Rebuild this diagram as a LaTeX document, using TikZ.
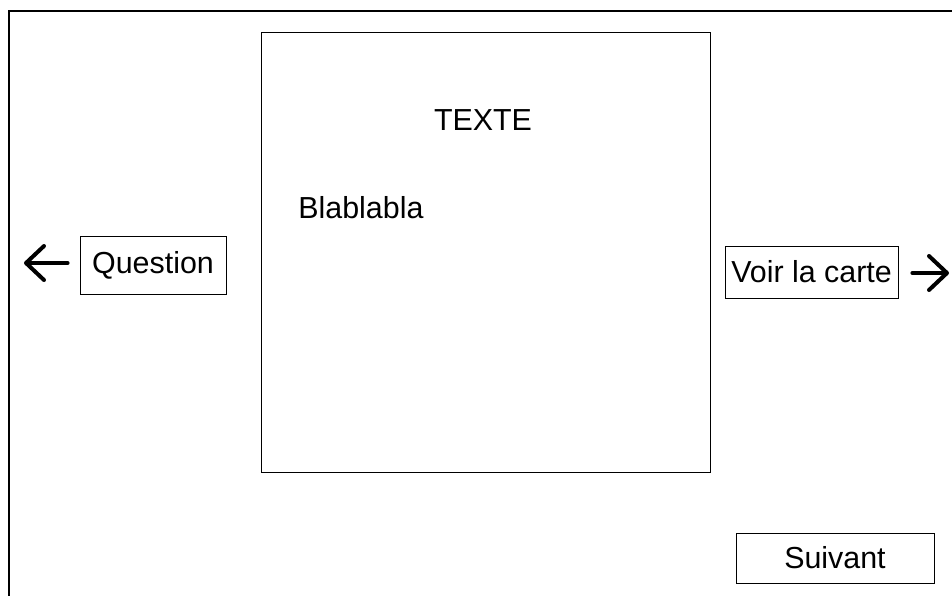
\documentclass[tikz,border=0pt]{standalone}
\usepackage{fontspec}
\setmainfont{Liberation Sans}
\usetikzlibrary{arrows.meta}
\tikzset{
    btn/.style={rectangle, draw, inner sep=0, font=\fontsize{15.2}{18}\selectfont},
    label/.style={inner sep=0, font=\fontsize{15.2}{18}\selectfont},
    frame/.style={rectangle, draw, inner sep=0},
    nav/.style={line width=2pt, line cap=round,
                -{Straight Barb[length=9pt, width=17pt, line width=2pt, round]}},
}

\begin{document}
\begin{tikzpicture}[x=0.5pt, y=-0.5pt]
        \clip (0,0) rectangle (952,595);
        \draw[line width=0.6pt] (9,11) rectangle (980,620);
        %
        % Text panel
        \node[frame, minimum width=224.5pt, minimum height=220pt] (panel) at (485.5,252) {};
        \node[label] (title) at (483,120) {TEXTE};
        \node[label, anchor=west] (body) at (298,208) {Blablabla};
        %
        % Buttons
        \node[btn, minimum width=73pt, minimum height=29pt] (question) at (153,265) {\raisebox{-1.5pt}{Question}};
        \node[btn, minimum width=86.5pt, minimum height=26pt] (carte) at (811.5,272) {Voir la carte};
        \node[btn, minimum width=99pt, minimum height=25pt] (suivant) at (835,558) {Suivant};
        %
        % Arrows
        \coordinate (back) at (24,263);
        \coordinate (next) at (949,273);
        \draw[nav] ([xshift=-6pt]question.west |- back) -- (back);
        \draw[nav] ([xshift=7pt]carte.east |- next) -- (next);
\end{tikzpicture}
\end{document}
